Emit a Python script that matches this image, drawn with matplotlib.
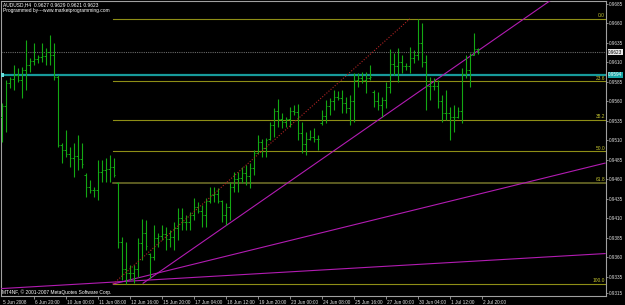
import numpy as np
import matplotlib
matplotlib.use('Agg')
import matplotlib.pyplot as plt
import matplotlib.transforms as mtransforms

# AUDUSD H4 bars
opens = [0.9540, 0.9554, 0.9584, 0.9589, 0.9594, 0.9587, 0.9600, 0.9607, 0.9612, 0.9614,
         0.9617, 0.9618, 0.9624, 0.9620, 0.9592, 0.9504, 0.9498, 0.9493, 0.9488, 0.9490,
         0.9486, 0.9466, 0.9450, 0.9446, 0.9447, 0.9470, 0.9472, 0.9474, 0.9476, 0.9455,
         0.9380, 0.9345, 0.9340, 0.9340, 0.9345, 0.9378, 0.9392, 0.9364, 0.9360, 0.9385,
         0.9388, 0.9390, 0.9384, 0.9386, 0.9398, 0.9410, 0.9405, 0.9406, 0.9414, 0.9425,
         0.9420, 0.9415, 0.9432, 0.9440, 0.9442, 0.9432, 0.9414, 0.9425, 0.9450, 0.9460,
         0.9462, 0.9468, 0.9465, 0.9475, 0.9494, 0.9508, 0.9500, 0.9512, 0.9530, 0.9548,
         0.9538, 0.9534, 0.9537, 0.9548, 0.9546, 0.9520, 0.9505, 0.9512, 0.9515, 0.9512,
         0.9532, 0.9542, 0.9554, 0.9560, 0.9566, 0.9565, 0.9558, 0.9552, 0.9560, 0.9587,
         0.9590, 0.9588, 0.9590, 0.9572, 0.9560, 0.9556, 0.9562, 0.9578, 0.9608, 0.9606,
         0.9610, 0.9606, 0.9605, 0.9616, 0.9620, 0.9635, 0.9610, 0.9580, 0.9580, 0.9580,
         0.9560, 0.9545, 0.9545, 0.9540, 0.9540, 0.9548, 0.9595, 0.9600, 0.9620, 0.9627]
highs = [0.9558, 0.9587, 0.9591, 0.9607, 0.9603, 0.9604, 0.9639, 0.9616, 0.9635, 0.9619,
         0.9635, 0.9628, 0.9645, 0.9635, 0.9594, 0.9507, 0.9523, 0.9502, 0.9507, 0.9517,
         0.9507, 0.9468, 0.9459, 0.9450, 0.9485, 0.9485, 0.9487, 0.9491, 0.9487, 0.9457,
         0.9386, 0.9380, 0.9350, 0.9350, 0.9385, 0.9409, 0.9408, 0.9366, 0.9402, 0.9391,
         0.9402, 0.9399, 0.9395, 0.9405, 0.9423, 0.9423, 0.9414, 0.9418, 0.9436, 0.9431,
         0.9427, 0.9436, 0.9450, 0.9450, 0.9449, 0.9434, 0.9430, 0.9457, 0.9469, 0.9469,
         0.9476, 0.9478, 0.9481, 0.9498, 0.9517, 0.9512, 0.9513, 0.9534, 0.9552, 0.9563,
         0.9545, 0.9540, 0.9553, 0.9555, 0.9557, 0.9534, 0.9521, 0.9523, 0.9526, 0.9517,
         0.9549, 0.9562, 0.9564, 0.9575, 0.9573, 0.9575, 0.9566, 0.9568, 0.9596, 0.9596,
         0.9598, 0.9598, 0.9607, 0.9575, 0.9572, 0.9566, 0.9585, 0.9627, 0.9622, 0.9628,
         0.9619, 0.9609, 0.9630, 0.9626, 0.9666, 0.9661, 0.9619, 0.9591, 0.9590, 0.9587,
         0.9568, 0.9575, 0.9553, 0.9555, 0.9553, 0.9603, 0.9619, 0.9622, 0.9648, 0.9629]
lows = [0.9508, 0.9521, 0.9577, 0.9575, 0.9585, 0.9564, 0.9575, 0.9598, 0.9607, 0.9609,
        0.9611, 0.9607, 0.9607, 0.9587, 0.9502, 0.9481, 0.9489, 0.9476, 0.9463, 0.9472,
        0.9475, 0.9437, 0.9443, 0.9437, 0.9434, 0.9457, 0.9457, 0.9457, 0.9463, 0.9372,
        0.9331, 0.9326, 0.9331, 0.9327, 0.9335, 0.9357, 0.9370, 0.9334, 0.9357, 0.9373,
        0.9382, 0.9370, 0.9373, 0.9370, 0.9382, 0.9395, 0.9395, 0.9395, 0.9408, 0.9417,
        0.9399, 0.9399, 0.9430, 0.9431, 0.9430, 0.9405, 0.9402, 0.9408, 0.9444, 0.9444,
        0.9455, 0.9453, 0.9449, 0.9466, 0.9494, 0.9489, 0.9489, 0.9511, 0.9514, 0.9527,
        0.9526, 0.9527, 0.9527, 0.9543, 0.9511, 0.9494, 0.9491, 0.9511, 0.9508, 0.9498,
        0.9530, 0.9532, 0.9543, 0.9549, 0.9562, 0.9545, 0.9545, 0.9530, 0.9534, 0.9578,
        0.9584, 0.9571, 0.9587, 0.9553, 0.9549, 0.9540, 0.9552, 0.9571, 0.9594, 0.9585,
        0.9596, 0.9600, 0.9596, 0.9609, 0.9613, 0.9604, 0.9549, 0.9562, 0.9575, 0.9552,
        0.9534, 0.9536, 0.9511, 0.9521, 0.9539, 0.9532, 0.9590, 0.9578, 0.9619, 0.9621]
closes = [0.9554, 0.9584, 0.9589, 0.9594, 0.9587, 0.9600, 0.9607, 0.9612, 0.9614, 0.9617,
          0.9618, 0.9624, 0.9620, 0.9592, 0.9504, 0.9498, 0.9493, 0.9488, 0.9490, 0.9486,
          0.9480, 0.9450, 0.9446, 0.9447, 0.9470, 0.9472, 0.9474, 0.9476, 0.9466, 0.9380,
          0.9345, 0.9340, 0.9340, 0.9345, 0.9378, 0.9392, 0.9375, 0.9360, 0.9385, 0.9388,
          0.9390, 0.9384, 0.9386, 0.9398, 0.9410, 0.9405, 0.9406, 0.9414, 0.9425, 0.9420,
          0.9415, 0.9432, 0.9440, 0.9442, 0.9432, 0.9414, 0.9425, 0.9450, 0.9460, 0.9462,
          0.9468, 0.9465, 0.9475, 0.9494, 0.9508, 0.9500, 0.9510, 0.9530, 0.9548, 0.9538,
          0.9534, 0.9537, 0.9548, 0.9546, 0.9520, 0.9505, 0.9512, 0.9515, 0.9512, 0.9512,
          0.9542, 0.9554, 0.9560, 0.9566, 0.9565, 0.9558, 0.9552, 0.9560, 0.9587, 0.9590,
          0.9588, 0.9590, 0.9592, 0.9560, 0.9556, 0.9562, 0.9578, 0.9608, 0.9606, 0.9610,
          0.9606, 0.9605, 0.9616, 0.9620, 0.9635, 0.9610, 0.9580, 0.9580, 0.9580, 0.9560,
          0.9545, 0.9545, 0.9540, 0.9540, 0.9548, 0.9595, 0.9600, 0.9620, 0.9627, 0.9623]

price_ticks = [0.9685, 0.9660, 0.9635, 0.9610, 0.9585, 0.9560, 0.9535, 0.9510, 0.9485,
               0.9460, 0.9435, 0.9410, 0.9385, 0.9360, 0.9335, 0.9315]
date_pos = [0, 8, 16, 24, 32, 40, 48, 56, 64, 72, 80, 88, 96, 104, 112, 120]
date_labels = ['5 Jun 2008', '6 Jun 20:00', '10 Jun 00:00', '11 Jun 08:00', '12 Jun 16:00',
               '15 Jun 20:00', '17 Jun 04:00', '18 Jun 12:00', '19 Jun 20:00', '23 Jun 00:00',
               '24 Jun 08:00', '25 Jun 16:00', '27 Jun 00:00', '30 Jun 04:00', '1 Jul 12:00',
               '2 Jul 20:00']

# fibonacci retracement (anchors in bar index / price)
fib_x = [27.9, 102.1]
fib_y = [0.9326, 0.9666]
fib_levels = [0.0, 23.6, 38.2, 50.0, 61.8, 100.0]

# hand drawn trend lines
line1_x = [-0.4, 150.9]
line1_y = [0.9320, 0.9365]
line2_x = [27.9, 150.9]
line2_y = [0.9326, 0.9481]
line3_x = [35.4, 137.1]
line3_y = [0.9327, 0.9689]

bid_price = 0.9623
hline_price = 0.9594
title = 'AUDUSD,H4  0.9627 0.9629 0.9621 0.9623'

W, H = 625, 305
plt.rcParams['font.family'] = ['Liberation Sans', 'DejaVu Sans']

fig = plt.figure(figsize=(W / 100, H / 100), dpi=100, facecolor='black')
ax = fig.add_axes([1 / W, 1 - 296 / H, 605 / W, 295 / H])
ax.set_facecolor('black')
ax.set_xlim(-0.125, 151.125)
ax.set_ylim(0.93106, 0.96888)

grey = '#a0a0a0'
for s in ax.spines.values():
    s.set_color(grey)
    s.set_linewidth(0.8)

# fib levels
fhi, flo = fib_y[1], fib_y[0]
for lv in fib_levels:
    p = fhi - lv / 100 * (fhi - flo)
    lw = 1.1 if lv == 61.8 else 0.8
    col = '#75752a' if lv == 61.8 else '#8e8e16'
    ax.plot([fib_x[0], 152], [p, p], color=col, lw=lw, zorder=2)
    ax.text(150.9, p + 0.00008, '%.1f' % lv, color='#c4c430', fontsize=3.5,
            ha='right', va='bottom', zorder=5)
ax.plot(fib_x, fib_y, color='#b02424', lw=0.8, ls=(0, (1, 1.5)), zorder=4.5)

# horizontal lines
ax.axhline(bid_price, color='#6a6a6a', lw=0.8, ls=(0, (1, 1)), zorder=2)
ax.axhline(hline_price, color='#179a9a', lw=1.6, zorder=2)
ax.plot([0.15], [hline_price], marker='s', ms=2.2, color='#6ee0e0', mew=0, zorder=6)

# trend lines
mag = '#b21cb2'
ax.plot(line1_x, line1_y, color=mag, lw=0.8, zorder=3)
ax.plot(line2_x, line2_y, color=mag, lw=0.8, zorder=3)
k3 = (line3_y[1] - line3_y[0]) / (line3_x[1] - line3_x[0])
ax.plot([line3_x[0], 152], [line3_y[0], line3_y[0] + k3 * (152 - line3_x[0])],
        color=mag, lw=0.8, zorder=3)

# bars
x = np.arange(len(highs))
green = '#13a813'
ax.vlines(x, lows, highs, color=green, lw=0.8, zorder=4)
ax.hlines(opens, x - 0.3, x, color=green, lw=0.7, zorder=4)
ax.hlines(closes, x, x + 0.3, color=green, lw=0.7, zorder=4)

# right price scale
ax.yaxis.tick_right()
ax.set_yticks(price_ticks)
ax.set_yticklabels(['%.4f' % t for t in price_ticks])
ax.tick_params(axis='y', colors=grey, labelcolor='#e0e0e0', labelsize=3.3,
               length=1.5, width=0.6, pad=0.6)
trans_y = mtransforms.blended_transform_factory(ax.transAxes, ax.transData)
ax.text(1.0035, bid_price, '%.4f' % bid_price, transform=trans_y, fontsize=3.3,
        color='black', va='center', ha='left', zorder=7, clip_on=False,
        bbox=dict(boxstyle='square,pad=0.12', fc='#e8e8e8', ec='none'))
ax.text(1.0035, hline_price, '%.4f' % hline_price, transform=trans_y, fontsize=3.3,
        color='white', va='center', ha='left', zorder=7, clip_on=False,
        bbox=dict(boxstyle='square,pad=0.12', fc='#17a6a6', ec='none'))

# time scale
ax.set_xticks(date_pos[1:])
ax.set_xticklabels([])
ax.tick_params(axis='x', colors=grey, length=2.5, width=0.6)
trans_x = mtransforms.blended_transform_factory(ax.transData, ax.transAxes)
for p, lab in zip(date_pos, date_labels):
    ax.text(p + 0.35, -0.012, lab, transform=trans_x, fontsize=3.4, color='#e0e0e0',
            ha='left', va='top', clip_on=False)

# captions
fig.text(3 / W, 1 - 5 / H, title, fontsize=3.5, color='white', va='center', ha='left')
fig.text(3 / W, 1 - 10.5 / H, 'Programmed by---www.marketprogramming.com', fontsize=3.5,
         color='white', va='center', ha='left')
fig.text(2.5 / W, 1 - 292 / H, 'MT4NF, \u00a9 2001-2007 MetaQuotes Software Corp.',
         fontsize=3.5, color='white', va='center', ha='left')

fig.savefig('out.png', dpi=100, facecolor='black')
